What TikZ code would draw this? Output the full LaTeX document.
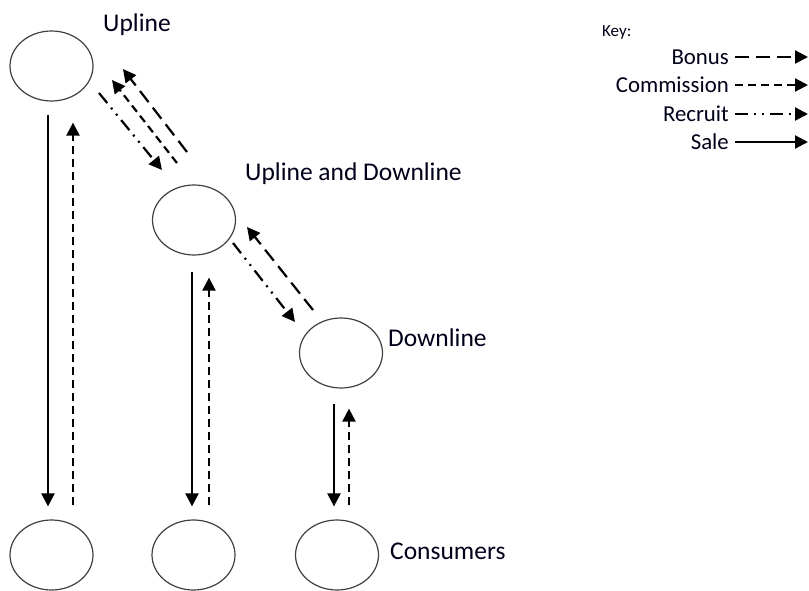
\documentclass[tikz,border=0pt]{standalone}
\usepackage{fontspec}
\setmainfont{Carlito}
\usetikzlibrary{arrows.meta,shapes.geometric}

\tikzset{
  member/.style={ellipse,draw=black!75,line width=1.2pt,minimum width=83pt,minimum height=70pt,inner sep=0pt},
  lbl/.style={anchor=base west,inner sep=0pt,text=black!90!blue,font=\fontsize{25.5}{30}\selectfont},
  keylbl/.style={anchor=east,inner sep=0pt,text height=15pt,text depth=0pt,text=black!90!blue,font=\fontsize{22.8}{27}\selectfont},
  flow/.style={line width=2.2pt,-{Triangle[length=13pt,width=13pt]}},
  sale/.style={flow},
  bonus/.style={flow,dash pattern=on 14pt off 7pt},
  commission/.style={flow,dash pattern=on 8pt off 5pt},
  recruit/.style={flow,dash pattern=on 13pt off 6pt on 2pt off 6pt on 2pt off 6pt}
}

\begin{document}
\begin{tikzpicture}[x=1pt,y=-1pt]
  \useasboundingbox (0,0) rectangle (809,591);

  % people
  \node[member] (up)   at (51.5,66) {};
  \node[member] (mid)  at (194,220) {};
  \node[member] (down) at (341,353) {};
  \node[member] (cA)   at (51.5,555) {};
  \node[member] (cB)   at (193.5,555) {};
  \node[member] (cC)   at (337,555) {};

  \node[lbl] (lup)   at (103,32)  {Upline};
  \node[lbl] (lmid)  at (245,181) {Upline and Downline};
  \node[lbl] (ldown) at (388,346) {Downline};
  \node[lbl] (lcons) at (390,559) {Consumers};

  % sales down, commission up
  \draw[sale,shorten <=13pt,shorten >=13pt] ([xshift=-3.5pt]up.south) -- ([xshift=-3.5pt]cA.north);
  \draw[commission,shorten <=14pt,shorten >=21pt] ([xshift=21.5pt]cA.north) -- ([xshift=21.5pt]cA.north |- up.south);
  \draw[sale,shorten <=16pt,shorten >=13pt] ([xshift=-2pt]mid.south) -- ([xshift=-2pt]mid.south |- cB.north);
  \draw[commission,shorten <=14pt,shorten >=22pt] ([xshift=15.5pt]cB.north) -- ([xshift=15.5pt]cB.north |- mid.south);
  \draw[sale,shorten <=15pt,shorten >=13pt] ([xshift=-7pt]down.south) -- ([xshift=-7pt]down.south |- cC.north);
  \draw[commission,shorten <=14pt,shorten >=20pt] ([xshift=12pt]cC.north) -- ([xshift=12pt]cC.north |- down.south);

  % recruiting and bonuses
  \draw[recruit] ([shift={(47.5,27)}]up.center) -- ([shift={(-32,-50)}]mid.center);
  \draw[commission] ([shift={(-17,-57)}]mid.center) -- ([shift={(60.5,14)}]up.center);
  \draw[bonus] ([shift={(-7,-68)}]mid.center) -- ([shift={(71.5,3)}]up.center);
  \draw[recruit] ([shift={(39,23)}]mid.center) -- ([shift={(-46,-31)}]down.center);
  \draw[bonus] ([shift={(-28,-43)}]down.center) -- ([shift={(53,7)}]mid.center);

  % key
  \node[anchor=base west,inner sep=0pt,text=black!90!blue,font=\fontsize{17}{20}\selectfont] (key) at (602,37) {Key:};
  \foreach \name/\txt/\y in {bonus/Bonus/57,commission/Commission/85,recruit/Recruit/114,sale/Sale/142}
  { \node[keylbl] (k\name) at (729,\y) {\txt};
    \coordinate (k\name end) at (808,\y);
    \draw[\name] ([xshift=6pt]k\name.east) -- (k\name end); }
\end{tikzpicture}
\end{document}
